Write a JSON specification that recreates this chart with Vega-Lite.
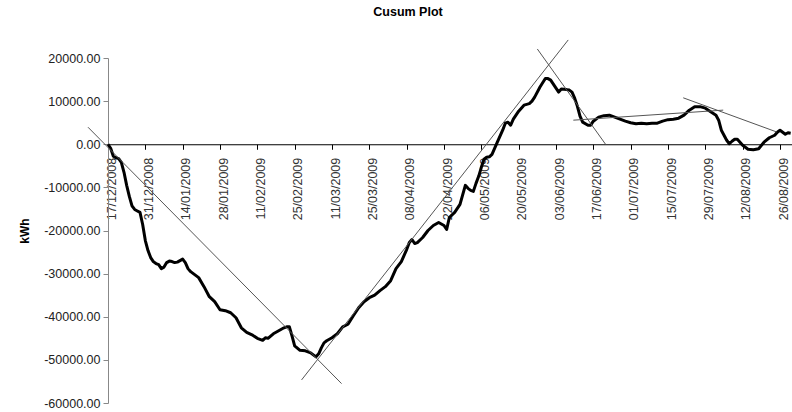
{
  "$schema": "https://vega.github.io/schema/vega-lite/v6.json",
  "width": 684,
  "height": 345,
  "autosize": {"type": "none"},
  "padding": {"left": 108, "top": 58, "right": 0, "bottom": 9},
  "background": "white",
  "config": {"view": {"stroke": null}, "font": "Liberation Sans"},
  "title": {"text": "Cusum Plot", "font": "Liberation Sans", "fontSize": 12.5, "fontWeight": "bold", "color": "#000", "anchor": "middle", "dx": -42, "offset": 19},
  "datasets": {
    "cusum": [
      {"date": "2008/12/17", "kWh": 0},
      {"date": "2008/12/18", "kWh": -930},
      {"date": "2008/12/19", "kWh": -2790},
      {"date": "2008/12/20", "kWh": -3140},
      {"date": "2008/12/21", "kWh": -3330},
      {"date": "2008/12/22", "kWh": -4190},
      {"date": "2008/12/23", "kWh": -6510},
      {"date": "2008/12/24", "kWh": -9535},
      {"date": "2008/12/25", "kWh": -12090},
      {"date": "2008/12/26", "kWh": -14300},
      {"date": "2008/12/27", "kWh": -15120},
      {"date": "2008/12/28", "kWh": -15470},
      {"date": "2008/12/29", "kWh": -15810},
      {"date": "2008/12/30", "kWh": -18600},
      {"date": "2008/12/31", "kWh": -22330},
      {"date": "2009/01/01", "kWh": -24650},
      {"date": "2009/01/02", "kWh": -26280},
      {"date": "2009/01/03", "kWh": -27210},
      {"date": "2009/01/04", "kWh": -27670},
      {"date": "2009/01/05", "kWh": -27910},
      {"date": "2009/01/06", "kWh": -28840},
      {"date": "2009/01/07", "kWh": -28490},
      {"date": "2009/01/08", "kWh": -27440},
      {"date": "2009/01/09", "kWh": -27090},
      {"date": "2009/01/10", "kWh": -27210},
      {"date": "2009/01/11", "kWh": -27440},
      {"date": "2009/01/12", "kWh": -27330},
      {"date": "2009/01/13", "kWh": -26980},
      {"date": "2009/01/14", "kWh": -26630},
      {"date": "2009/01/15", "kWh": -27440},
      {"date": "2009/01/16", "kWh": -28840},
      {"date": "2009/01/17", "kWh": -29540},
      {"date": "2009/01/18", "kWh": -30000},
      {"date": "2009/01/20", "kWh": -30930},
      {"date": "2009/01/22", "kWh": -33020},
      {"date": "2009/01/24", "kWh": -35350},
      {"date": "2009/01/26", "kWh": -36510},
      {"date": "2009/01/28", "kWh": -38370},
      {"date": "2009/01/30", "kWh": -38600},
      {"date": "2009/02/01", "kWh": -39070},
      {"date": "2009/02/03", "kWh": -40230},
      {"date": "2009/02/05", "kWh": -42560},
      {"date": "2009/02/07", "kWh": -43600},
      {"date": "2009/02/09", "kWh": -44190},
      {"date": "2009/02/11", "kWh": -45000},
      {"date": "2009/02/13", "kWh": -45470},
      {"date": "2009/02/14", "kWh": -44890},
      {"date": "2009/02/15", "kWh": -45000},
      {"date": "2009/02/17", "kWh": -43950},
      {"date": "2009/02/19", "kWh": -43260},
      {"date": "2009/02/21", "kWh": -42560},
      {"date": "2009/02/22", "kWh": -42330},
      {"date": "2009/02/23", "kWh": -42330},
      {"date": "2009/02/24", "kWh": -44420},
      {"date": "2009/02/25", "kWh": -46740},
      {"date": "2009/02/27", "kWh": -47790},
      {"date": "2009/03/01", "kWh": -47910},
      {"date": "2009/03/03", "kWh": -48370},
      {"date": "2009/03/05", "kWh": -49300},
      {"date": "2009/03/06", "kWh": -48600},
      {"date": "2009/03/07", "kWh": -47210},
      {"date": "2009/03/08", "kWh": -46050},
      {"date": "2009/03/09", "kWh": -45580},
      {"date": "2009/03/11", "kWh": -44880},
      {"date": "2009/03/13", "kWh": -43950},
      {"date": "2009/03/15", "kWh": -42330},
      {"date": "2009/03/17", "kWh": -41740},
      {"date": "2009/03/19", "kWh": -39770},
      {"date": "2009/03/21", "kWh": -37910},
      {"date": "2009/03/23", "kWh": -36510},
      {"date": "2009/03/25", "kWh": -35580},
      {"date": "2009/03/27", "kWh": -35000},
      {"date": "2009/03/29", "kWh": -33950},
      {"date": "2009/03/31", "kWh": -33020},
      {"date": "2009/04/02", "kWh": -31630},
      {"date": "2009/04/04", "kWh": -28840},
      {"date": "2009/04/06", "kWh": -27210},
      {"date": "2009/04/08", "kWh": -24420},
      {"date": "2009/04/09", "kWh": -22790},
      {"date": "2009/04/10", "kWh": -22090},
      {"date": "2009/04/11", "kWh": -23020},
      {"date": "2009/04/12", "kWh": -22790},
      {"date": "2009/04/14", "kWh": -21630},
      {"date": "2009/04/16", "kWh": -20000},
      {"date": "2009/04/18", "kWh": -18840},
      {"date": "2009/04/20", "kWh": -18140},
      {"date": "2009/04/22", "kWh": -18840},
      {"date": "2009/04/23", "kWh": -19770},
      {"date": "2009/04/24", "kWh": -16980},
      {"date": "2009/04/26", "kWh": -15810},
      {"date": "2009/04/28", "kWh": -13950},
      {"date": "2009/04/30", "kWh": -9535},
      {"date": "2009/05/01", "kWh": -10230},
      {"date": "2009/05/02", "kWh": -10700},
      {"date": "2009/05/03", "kWh": -10930},
      {"date": "2009/05/04", "kWh": -9070},
      {"date": "2009/05/05", "kWh": -7440},
      {"date": "2009/05/06", "kWh": -5350},
      {"date": "2009/05/07", "kWh": -3490},
      {"date": "2009/05/08", "kWh": -3020},
      {"date": "2009/05/09", "kWh": -2910},
      {"date": "2009/05/10", "kWh": -2330},
      {"date": "2009/05/12", "kWh": 470},
      {"date": "2009/05/14", "kWh": 3260},
      {"date": "2009/05/15", "kWh": 4880},
      {"date": "2009/05/16", "kWh": 5120},
      {"date": "2009/05/17", "kWh": 4420},
      {"date": "2009/05/18", "kWh": 5810},
      {"date": "2009/05/20", "kWh": 7670},
      {"date": "2009/05/22", "kWh": 9070},
      {"date": "2009/05/24", "kWh": 9420},
      {"date": "2009/05/25", "kWh": 10000},
      {"date": "2009/05/26", "kWh": 10930},
      {"date": "2009/05/28", "kWh": 13260},
      {"date": "2009/05/30", "kWh": 15230},
      {"date": "2009/05/31", "kWh": 15230},
      {"date": "2009/06/01", "kWh": 14880},
      {"date": "2009/06/03", "kWh": 13020},
      {"date": "2009/06/04", "kWh": 12090},
      {"date": "2009/06/05", "kWh": 12790},
      {"date": "2009/06/07", "kWh": 12670},
      {"date": "2009/06/08", "kWh": 12560},
      {"date": "2009/06/09", "kWh": 12090},
      {"date": "2009/06/10", "kWh": 10700},
      {"date": "2009/06/11", "kWh": 8840},
      {"date": "2009/06/12", "kWh": 6510},
      {"date": "2009/06/13", "kWh": 5120},
      {"date": "2009/06/15", "kWh": 4420},
      {"date": "2009/06/16", "kWh": 4420},
      {"date": "2009/06/17", "kWh": 5350},
      {"date": "2009/06/19", "kWh": 6280},
      {"date": "2009/06/21", "kWh": 6630},
      {"date": "2009/06/23", "kWh": 6740},
      {"date": "2009/06/25", "kWh": 6280},
      {"date": "2009/06/27", "kWh": 5810},
      {"date": "2009/06/29", "kWh": 5350},
      {"date": "2009/07/01", "kWh": 5000},
      {"date": "2009/07/03", "kWh": 4770},
      {"date": "2009/07/05", "kWh": 4880},
      {"date": "2009/07/07", "kWh": 4770},
      {"date": "2009/07/09", "kWh": 4880},
      {"date": "2009/07/11", "kWh": 4880},
      {"date": "2009/07/13", "kWh": 5350},
      {"date": "2009/07/15", "kWh": 5700},
      {"date": "2009/07/17", "kWh": 5810},
      {"date": "2009/07/19", "kWh": 6050},
      {"date": "2009/07/21", "kWh": 6740},
      {"date": "2009/07/23", "kWh": 7910},
      {"date": "2009/07/25", "kWh": 8720},
      {"date": "2009/07/27", "kWh": 8720},
      {"date": "2009/07/29", "kWh": 8370},
      {"date": "2009/07/31", "kWh": 7560},
      {"date": "2009/08/02", "kWh": 6740},
      {"date": "2009/08/03", "kWh": 5580},
      {"date": "2009/08/04", "kWh": 3260},
      {"date": "2009/08/06", "kWh": 930},
      {"date": "2009/08/07", "kWh": 120},
      {"date": "2009/08/08", "kWh": 700},
      {"date": "2009/08/09", "kWh": 1160},
      {"date": "2009/08/10", "kWh": 1160},
      {"date": "2009/08/12", "kWh": -230},
      {"date": "2009/08/14", "kWh": -1160},
      {"date": "2009/08/16", "kWh": -1280},
      {"date": "2009/08/18", "kWh": -1050},
      {"date": "2009/08/20", "kWh": 470},
      {"date": "2009/08/22", "kWh": 1510},
      {"date": "2009/08/24", "kWh": 2090},
      {"date": "2009/08/25", "kWh": 2790},
      {"date": "2009/08/26", "kWh": 3260},
      {"date": "2009/08/27", "kWh": 2790},
      {"date": "2009/08/28", "kWh": 2330},
      {"date": "2009/08/29", "kWh": 2670},
      {"date": "2009/08/30", "kWh": 2560}
    ],
    "trend": [
      {"seg": "a", "date": "2008/12/09 12:00", "kWh": 3950},
      {"seg": "a", "date": "2009/03/14 14:00", "kWh": -55500},
      {"seg": "b", "date": "2009/02/27 14:00", "kWh": -54650},
      {"seg": "b", "date": "2009/06/07 14:00", "kWh": 24190},
      {"seg": "c", "date": "2009/05/27 00:00", "kWh": 22090},
      {"seg": "c", "date": "2009/06/21 14:00", "kWh": 0},
      {"seg": "d", "date": "2009/06/09 12:00", "kWh": 5580},
      {"seg": "d", "date": "2009/08/04 17:00", "kWh": 7910},
      {"seg": "e", "date": "2009/07/20 17:00", "kWh": 10770},
      {"seg": "e", "date": "2009/08/24 17:00", "kWh": 2860}
    ]
  },
  "encoding": {
    "x": {
      "field": "date", "type": "temporal",
      "scale": {"domain": [{"year": 2008, "month": 12, "date": 17}, {"year": 2009, "month": 8, "date": 30, "hours": 12}]},
      "axis": {
        "title": null, "orient": "bottom", "offset": -258.75, "grid": false,
        "format": "%d/%m/%Y", "labelAngle": -90, "labelFontSize": 12.5, "labelColor": "#333",
        "labelPadding": 8, "labelOffset": 3, "labelOverlap": false, "labelFlush": false, "labelSeparation": 0,
        "domainColor": "#000", "domainWidth": 1, "tickColor": "#000", "tickSize": 5,
        "values": [
          {"year": 2008, "month": 12, "date": 17}, {"year": 2008, "month": 12, "date": 31},
          {"year": 2009, "month": 1, "date": 14}, {"year": 2009, "month": 1, "date": 28},
          {"year": 2009, "month": 2, "date": 11}, {"year": 2009, "month": 2, "date": 25},
          {"year": 2009, "month": 3, "date": 11}, {"year": 2009, "month": 3, "date": 25},
          {"year": 2009, "month": 4, "date": 8}, {"year": 2009, "month": 4, "date": 22},
          {"year": 2009, "month": 5, "date": 6}, {"year": 2009, "month": 5, "date": 20},
          {"year": 2009, "month": 6, "date": 3}, {"year": 2009, "month": 6, "date": 17},
          {"year": 2009, "month": 7, "date": 1}, {"year": 2009, "month": 7, "date": 15},
          {"year": 2009, "month": 7, "date": 29}, {"year": 2009, "month": 8, "date": 12},
          {"year": 2009, "month": 8, "date": 26}
        ]
      }
    },
    "y": {
      "field": "kWh", "type": "quantitative",
      "scale": {"domain": [-60000, 20000], "nice": false, "zero": false},
      "axis": {
        "title": "kWh", "titleFontSize": 12, "titleFontWeight": "bold", "titleColor": "#000", "titlePadding": 12,
        "grid": false, "values": [-60000, -50000, -40000, -30000, -20000, -10000, 0, 10000, 20000],
        "labelExpr": "replace(format(datum.value, '.2f'), '\u2212', '-')",
        "labelFontSize": 12.5, "labelColor": "#222", "labelPadding": 3,
        "domainColor": "#888", "tickColor": "#888", "tickSize": 5
      }
    }
  },
  "layer": [
    {
      "data": {"name": "cusum"},
      "mark": {"type": "line", "color": "#000", "strokeWidth": 3, "strokeJoin": "round"}
    },
    {
      "data": {"name": "trend"},
      "mark": {"type": "line", "color": "#555", "strokeWidth": 1, "clip": false},
      "encoding": {"detail": {"field": "seg"}}
    }
  ]
}
